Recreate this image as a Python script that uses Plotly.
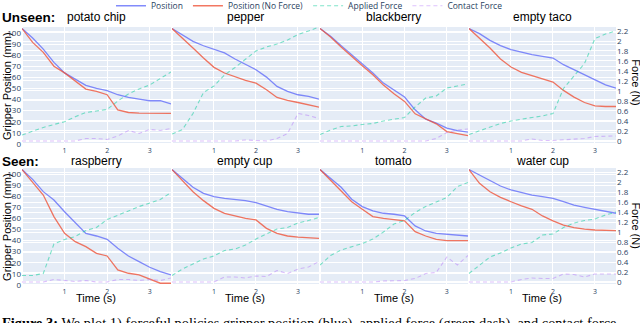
import plotly.graph_objects as go
from plotly.subplots import make_subplots

# time axis (s), sampled every 0.25 s
time_s = [0, 0.25, 0.5, 0.75, 1.0, 1.25, 1.5, 1.75, 2.0, 2.25, 2.5, 2.75, 3.0, 3.25, 3.5]

# unseen objects
potato_chip_pos = [104, 95.5, 85.5, 73.5, 64, 58, 52.7, 50, 48, 44.3, 42, 40.4, 38.9, 38.9, 36]
potato_chip_nf = [104, 91.5, 82.5, 70, 64, 57, 49.4, 47.3, 44.3, 30.7, 28.3, 27.7, 27.5, 27.5, 27.5]
potato_chip_applied = [0.12, 0.2, 0.27, 0.33, 0.385, 0.485, 0.57, 0.6, 0.63, 0.8, 0.94, 1.04, 1.12, 1.25, 1.38]
potato_chip_contact = [0, 0, 0, 0, 0, 0, 0.05, 0.05, 0.03, 0.1, 0.21, 0.15, 0.23, 0.21, 0.25]

pepper_pos = [104, 98.5, 92.5, 88.5, 85.5, 82, 76.5, 71.4, 66.9, 60.2, 51.8, 47.3, 44.3, 42.8, 40.4]
pepper_nf = [104, 95.5, 86.4, 77.4, 69, 63.9, 60.2, 57.2, 54.8, 48.8, 41.9, 39.2, 37.3, 35.2, 33.1]
pepper_applied = [0.14, 0.23, 0.55, 0.97, 1.1, 1.32, 1.47, 1.63, 1.8, 1.88, 1.94, 2.02, 2.13, 2.2, 2.28]
pepper_contact = [0, 0, 0, 0, 0, 0, 0, 0.02, 0.01, 0, 0.05, 0.15, 0.55, 0.51, 0.45]

blackberry_pos = [104, 97, 88.6, 80.4, 72.9, 63.9, 54.8, 48.2, 42.2, 30.7, 22.3, 18.7, 14.2, 12, 10.5]
blackberry_nf = [104, 96.4, 87.3, 78.6, 70.5, 62.3, 53, 45.2, 38.3, 27.1, 22.3, 18.1, 11.1, 9, 7.5]
blackberry_applied = [0.13, 0.22, 0.29, 0.3, 0.33, 0.35, 0.4, 0.43, 0.47, 0.68, 0.86, 0.9, 1.06, 1.1, 1.14]
blackberry_contact = [0, 0, 0, 0, 0, 0, 0, 0, 0, 0, 0, 0.05, 0.17, 0.22, 0.24]

empty_taco_pos = [104, 99.4, 93.4, 88.6, 85, 82.5, 80.4, 79, 77.4, 71.4, 66.9, 62.3, 57.8, 53.3, 50.3]
empty_taco_nf = [104, 95.5, 86.4, 76.5, 69.3, 64.5, 61.4, 58.7, 55.7, 48.2, 42.2, 37.3, 34.3, 33.7, 33.7]
empty_taco_applied = [0.13, 0.2, 0.27, 0.35, 0.4, 0.44, 0.47, 0.5, 0.55, 1.05, 1.3, 1.55, 2.05, 2.14, 2.2]
empty_taco_contact = [0, 0, 0, 0, 0, 0, 0.04, 0.01, 0.01, 0.02, 0.03, 0.05, 0.09, 0.1, 0.1]

# seen objects
raspberry_pos = [104, 95.2, 84.1, 76.6, 66, 56.2, 46.5, 44.1, 41.1, 33, 26.1, 21, 15.9, 12, 9]
raspberry_nf = [104, 93, 81, 61.6, 46.5, 39, 34.5, 28.5, 26.1, 13.5, 10.5, 9, 5.1, 1.5, 1.5]
raspberry_applied = [0.13, 0.13, 0.17, 0.76, 0.85, 0.91, 1.03, 1.09, 1.25, 1.33, 1.42, 1.51, 1.58, 1.65, 1.79]
raspberry_contact = [0, 0, 0, 0.05, 0.03, 0.01, 0.03, 0, 0, 0.05, 0.05, 0.03, 0.05, 0.03, 0.08]

empty_cup_pos = [104, 96, 88, 82.6, 79.6, 78, 77.2, 76, 74.2, 71.2, 68.2, 66, 64.6, 63.7, 63.7]
empty_cup_nf = [104, 94, 84, 76, 69, 64.6, 62.2, 60, 58.6, 51, 46.5, 44.1, 43, 42.6, 42]
empty_cup_applied = [0.13, 0.26, 0.36, 0.46, 0.52, 0.63, 0.66, 0.74, 0.86, 0.96, 1.06, 1.09, 1.18, 1.23, 1.29]
empty_cup_contact = [0, 0, 0, 0, 0, 0.1, 0.1, 0.08, 0.12, 0.11, 0.23, 0.17, 0.26, 0.3, 0.41]

tomato_pos = [104, 96, 88, 77.2, 70.6, 66.7, 64.6, 63.7, 62.2, 53.2, 48.6, 46.5, 45.6, 44.7, 44.1]
tomato_nf = [104, 94.6, 84.7, 75, 68.2, 61.6, 60, 58.6, 57.7, 48, 44.1, 41.1, 40, 40, 40]
tomato_applied = [0.34, 0.53, 0.64, 0.71, 0.77, 0.86, 1.0, 1.16, 1.23, 1.39, 1.51, 1.6, 1.69, 1.91, 1.99]
tomato_contact = [0, 0, 0, 0, 0, 0, 0.02, 0.02, 0.03, 0.07, 0.17, 0.19, 0.5, 0.34, 0.53]

water_cup_pos = [104, 99, 94, 89.2, 85.6, 83.2, 81, 79.6, 78, 75, 72, 70, 68.2, 66.7, 64.6]
water_cup_nf = [104, 91.6, 84, 79, 75, 71.2, 68.2, 62.2, 57.7, 54, 51.7, 50.2, 49.5, 49, 49]
water_cup_applied = [0.17, 0.33, 0.5, 0.58, 0.68, 0.76, 0.79, 0.94, 0.96, 1.09, 1.18, 1.23, 1.26, 1.34, 1.4]
water_cup_contact = [0, 0, 0, 0, 0, 0.05, 0.08, 0.07, 0.07, 0.16, 0.15, 0.1, 0.16, 0.16, 0.16]

panels = [
    ("potato chip", potato_chip_pos, potato_chip_nf, potato_chip_applied, potato_chip_contact),
    ("pepper", pepper_pos, pepper_nf, pepper_applied, pepper_contact),
    ("blackberry", blackberry_pos, blackberry_nf, blackberry_applied, blackberry_contact),
    ("empty taco", empty_taco_pos, empty_taco_nf, empty_taco_applied, empty_taco_contact),
    ("raspberry", raspberry_pos, raspberry_nf, raspberry_applied, raspberry_contact),
    ("empty cup", empty_cup_pos, empty_cup_nf, empty_cup_applied, empty_cup_contact),
    ("tomato", tomato_pos, tomato_nf, tomato_applied, tomato_contact),
    ("water cup", water_cup_pos, water_cup_nf, water_cup_applied, water_cup_contact),
]

fig = make_subplots(rows=2, cols=4, specs=[[{"secondary_y": True}] * 4] * 2,
                    horizontal_spacing=0.003, vertical_spacing=0.089,
                    subplot_titles=[p[0] for p in panels])

for i, (name, pos, nf, applied, contact) in enumerate(panels):
    r, c = i // 4 + 1, i % 4 + 1
    first = i == 0
    fig.add_trace(go.Scatter(x=time_s, y=pos, name="Position", mode="lines",
                             line=dict(color="#636EFA", width=1.3), opacity=0.8,
                             legendgroup="pos", showlegend=first),
                  row=r, col=c, secondary_y=False)
    fig.add_trace(go.Scatter(x=time_s, y=nf, name="Position (No Force)", mode="lines",
                             line=dict(color="#EF553B", width=1.3), opacity=0.8,
                             legendgroup="nf", showlegend=first),
                  row=r, col=c, secondary_y=False)
    fig.add_trace(go.Scatter(x=time_s, y=applied, name="Applied Force", mode="lines",
                             line=dict(color="#00CC96", width=1.1, dash="4px,3px"), opacity=0.5,
                             legendgroup="applied", showlegend=first),
                  row=r, col=c, secondary_y=True)
    fig.add_trace(go.Scatter(x=time_s, y=contact, name="Contact Force", mode="lines",
                             line=dict(color="#AB63FA", width=1.1, dash="4px,3px"), opacity=0.4,
                             legendgroup="contact", showlegend=first),
                  row=r, col=c, secondary_y=True)

# panel domains (paper coords), set by hand so every panel is ~148 px wide
col_domains = [[0, 0.2508], [0.2525, 0.5], [0.5017, 0.7508], [0.7525, 1.0]]
for r in (1, 2):
    for c in range(1, 5):
        fig.update_xaxes(domain=col_domains[c - 1], row=r, col=c)

fig.update_xaxes(range=[0, 3.5], tickvals=[1, 2, 3], tickfont=dict(size=7), ticks="",
                 automargin=False)
fig.update_yaxes(range=[-1, 105.4], dtick=10, tick0=0, showticklabels=False,
                 tickfont=dict(size=8), automargin=False, secondary_y=False)
fig.update_yaxes(range=[-0.08, 2.28], dtick=0.2, tick0=0, showticklabels=False,
                 tickfont=dict(size=8), automargin=False, secondary_y=True)
for r in (1, 2):
    fig.update_yaxes(showticklabels=True, row=r, col=1, secondary_y=False)
    fig.update_yaxes(showticklabels=True, row=r, col=4, secondary_y=True)

# subplot titles
for k, ann in enumerate(fig.layout.annotations):
    ann.font = dict(size=12, color="black", family="Liberation Sans, Arial")
    ann.x = sum(col_domains[k % 4]) / 2
    ann.yanchor = "middle"
    ann.y = 1.0386 if k < 4 else 0.4826

title_font = dict(size=11, color="black", family="Liberation Sans, Arial")
for y_mid, y_right in ((0.772, 0.788), (0.228, 0.2355)):
    fig.add_annotation(text="Gripper Position (mm)", xref="paper", yref="paper",
                       x=-0.0253, y=y_mid, xanchor="center", yanchor="middle",
                       textangle=-90, showarrow=False, font=title_font)
    fig.add_annotation(text="Force (N)", xref="paper", yref="paper",
                       x=1.033, y=y_right, xanchor="center", yanchor="middle",
                       textangle=90, showarrow=False, font=title_font)
for c in range(5, 9):
    fig.add_annotation(text="Time (s)", xref=f"x{c} domain", yref="paper",
                       x=0.5, y=-0.045, xanchor="center", yanchor="middle",
                       showarrow=False, font=title_font)

row_font = dict(size=13.5, color="black", family="Liberation Sans, Arial")
fig.add_annotation(text="<b>Unseen:</b>", xref="paper", yref="paper", x=-0.037, y=1.0386,
                   xanchor="left", yanchor="middle", showarrow=False, font=row_font)
fig.add_annotation(text="<b>Seen:</b>", xref="paper", yref="paper", x=-0.037, y=0.4826,
                   xanchor="left", yanchor="middle", showarrow=False, font=row_font)

fig.add_annotation(text="<b>Figure 3:</b> We plot 1) forceful policies gripper position (blue), "
                        "applied force (green dash), and contact force",
                   xref="paper", yref="paper", x=-0.037, y=-0.143, xanchor="left", yanchor="middle",
                   showarrow=False, font=dict(size=14.4, color="black", family="Liberation Serif"))

fig.update_layout(
    width=640, height=323, autosize=False,
    margin=dict(l=22, r=24, t=27, b=37, autoexpand=False),
    legend=dict(orientation="h", x=0.484, xanchor="center", y=1.082, yanchor="middle",
                font=dict(size=8.5), bgcolor="rgba(0,0,0,0)"),
    plot_bgcolor="#E5ECF6",
)

fig.write_html("out.html", config={"responsive": False, "displayModeBar": False},
               post_script="document.body.style.margin='0';document.body.style.overflow='hidden';")
